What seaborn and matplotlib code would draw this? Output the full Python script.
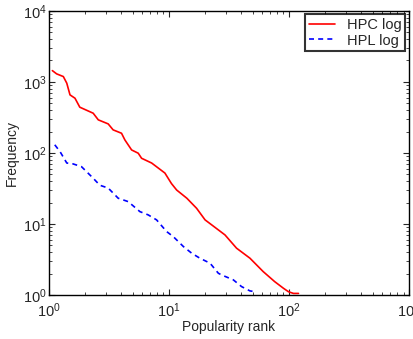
import matplotlib
matplotlib.use("Agg")
import matplotlib.pyplot as plt
import seaborn as sns
import pandas as pd

# HPC log (red, solid)
hpc_rank = [1.07, 1.16, 1.32, 1.41, 1.50, 1.65, 1.81, 2.34, 2.58, 3.12, 3.43, 4.03,
            4.30, 4.89, 5.55, 5.92, 7.18, 9.26, 10.5, 11.6, 14.1, 17.0, 20.0, 22.7,
            29.3, 36.6, 47.3, 61.0, 76.0, 90.0, 99.0, 109.0, 120.0]
hpc_freq = [1440, 1297, 1188, 959, 656, 589, 440, 362, 292, 256, 211, 189,
            152, 110, 99, 84, 72, 52, 37, 30, 23, 16.6, 11.4, 9.7,
            7.0, 4.55, 3.29, 2.13, 1.54, 1.24, 1.11, 1.05, 1.05]

# HPL log (blue, dashed)
hpl_rank = [1.12, 1.24, 1.41, 1.59, 1.87, 2.34, 2.66, 3.12, 3.78, 4.58, 5.73, 6.72,
            7.89, 9.57, 10.9, 13.2, 15.5, 18.1, 22.0, 25.8, 27.5, 34.4, 40.3, 47.3, 52.0]
hpl_freq = [130, 104, 72, 70, 64, 44, 35, 32, 23, 20.6, 14.9, 13.4,
            11.4, 7.8, 6.6, 4.8, 3.86, 3.29, 2.8, 2.02, 1.91, 1.63, 1.31, 1.14, 1.11]

series_names = ["HPC log", "HPL log"]
x_label = "Popularity rank"
y_label = "Frequency"

df = pd.concat([
    pd.DataFrame({"rank": hpc_rank, "freq": hpc_freq, "series": series_names[0]}),
    pd.DataFrame({"rank": hpl_rank, "freq": hpl_freq, "series": series_names[1]}),
])

sns.set_style("ticks")
plt.rcParams["font.family"] = ["Liberation Sans", "DejaVu Sans"]

fig = plt.figure(figsize=(4.14, 3.39), dpi=100)
ax = fig.add_axes([0.118, 0.130, 0.870, 0.838])

sns.lineplot(data=df, x="rank", y="freq", hue="series", style="series",
             palette={"HPC log": "#ff0000", "HPL log": "#0000ff"},
             dashes={"HPC log": "", "HPL log": (3, 2.5)},
             linewidth=1.2, ax=ax, sort=False, estimator=None)

ax.set_xscale("log")
ax.set_yscale("log")
ax.set_xlim(1, 1000)
ax.set_ylim(1, 1e4)
ax.set_xlabel(x_label, fontsize=10, labelpad=0)
ax.set_ylabel(y_label, fontsize=10, labelpad=3)
ax.tick_params(which="both", direction="in", top=True, right=True, labelsize=10.5)
ax.tick_params(axis="y", which="both", pad=1.5)
ax.tick_params(axis="x", which="both", pad=5)
ax.tick_params(which="major", length=4, width=0.8)
ax.tick_params(which="minor", length=2, width=0.6)
for s in ax.spines.values():
    s.set_linewidth(1.0)
    s.set_color("black")

leg = ax.legend(loc="upper right", fontsize=10.5, frameon=True, fancybox=False,
                handlelength=1.8, borderpad=0.25, labelspacing=0.1,
                borderaxespad=0.25, handletextpad=0.8)
leg.get_frame().set_edgecolor("black")
leg.get_frame().set_linewidth(1.5)
leg.set_title(None)

fig.savefig("out.png", dpi=100)
